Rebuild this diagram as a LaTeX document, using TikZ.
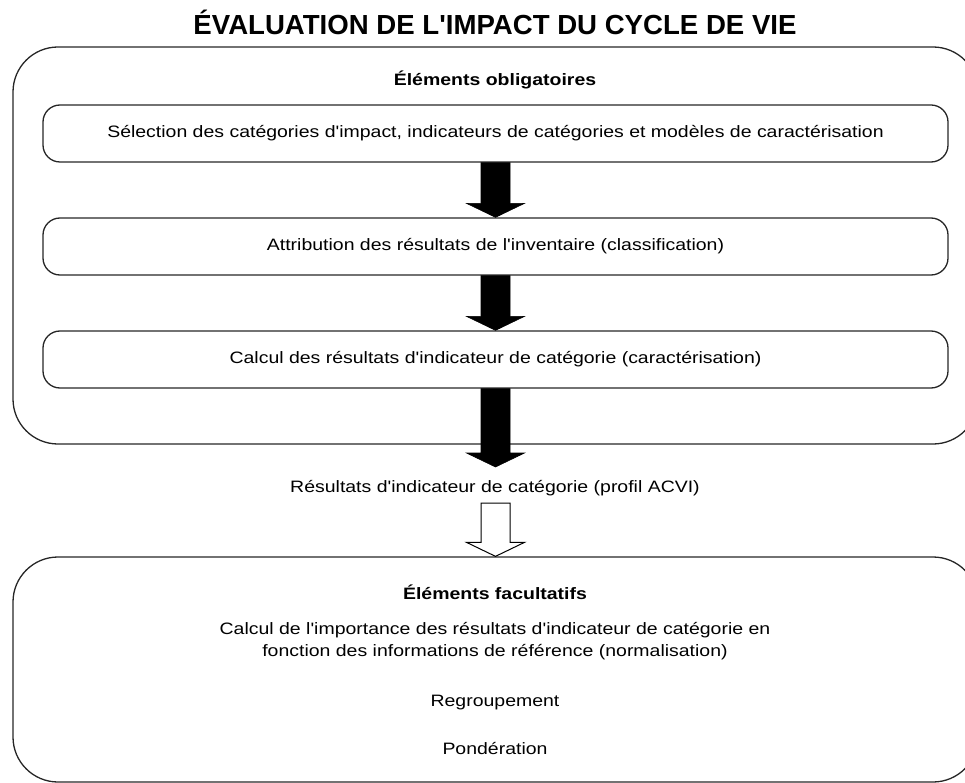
\documentclass[tikz,border=0pt]{standalone}
\usepackage{fontspec}
\setmainfont{Liberation Sans}
\newfontfamily\bodyfont[FakeStretch=1.18]{Liberation Sans}
\newfontfamily\titlefont{Liberation Sans}
\usetikzlibrary{calc}
\tikzset{
  frame/.style={draw=black!85, line width=1.3pt, rounded corners=45pt, minimum width=965pt, inner sep=0pt},
  stepbox/.style={draw=black!85, line width=1.3pt, rounded corners=17pt, minimum width=905pt, minimum height=57pt, inner sep=0pt, font=\bodyfont\fontsize{16.5}{19}\selectfont},
  lbl/.style={inner sep=0pt, font=\bodyfont\fontsize{16.5}{22}\selectfont, align=center},
  head/.style={inner sep=0pt, font=\bodyfont\fontsize{16.5}{19}\selectfont\bfseries},
  blk/.style={fill=black, draw=black, line width=0.6pt},
  wht/.style={fill=white, draw=black, line width=1pt}
}
\newcommand{\blockarrow}[3]{%
  \draw[#3] ($(#1)+(-14.5,0)$) -- ($(#2)+(-14.5,-14)$) -- ($(#2)+(-29,-14)$) -- (#2)
    -- ($(#2)+(29,-14)$) -- ($(#2)+(14.5,-14)$) -- ($(#1)+(14.5,0)$) -- cycle;}
\begin{document}
\begin{tikzpicture}[x=1pt,y=-1pt]
\useasboundingbox (0,0) rectangle (965,783);
\clip (0,0) rectangle (965,783);
\node[inner sep=0pt, font=\titlefont\fontsize{27.6}{30}\selectfont\bfseries] (title) at (495,22) {ÉVALUATION DE L'IMPACT DU CYCLE DE VIE};
\node[frame, minimum height=397pt] (o1) at (495.5,245.5) {};
\node[head] (h1) at (495,80) {Éléments obligatoires};
\node[stepbox] (b1) at (495.5,133.5) {Sélection des catégories d'impact, indicateurs de catégories et modèles de caractérisation};
\node[stepbox] (b2) at (495.5,246.5) {Attribution des résultats de l'inventaire (classification)};
\node[stepbox] (b3) at (495.5,359.5) {Calcul des résultats d'indicateur de catégorie (caractérisation)};
\coordinate (t3) at (495.5,467);
\node[lbl] (res) at (495,488) {Résultats d'indicateur de catégorie (profil ACVI)};
\coordinate (w0) at (495.5,503);
\node[frame, minimum height=225pt] (o2) at (495.5,669.5) {};
\blockarrow{b1.south}{b2.north}{blk}
\blockarrow{b2.south}{b3.north}{blk}
\blockarrow{b3.south}{t3}{blk}
\blockarrow{w0}{o2.north}{wht}
\node[head] (h2) at (495,592) {Éléments facultatifs};
\node[lbl] (f1) at (495,641) {Calcul de l'importance des résultats d'indicateur de catégorie en\\fonction des informations de référence (normalisation)};
\node[lbl] (f2) at (495,703) {Regroupement};
\node[lbl] (f3) at (495,748) {Pondération};
\end{tikzpicture}
\end{document}
